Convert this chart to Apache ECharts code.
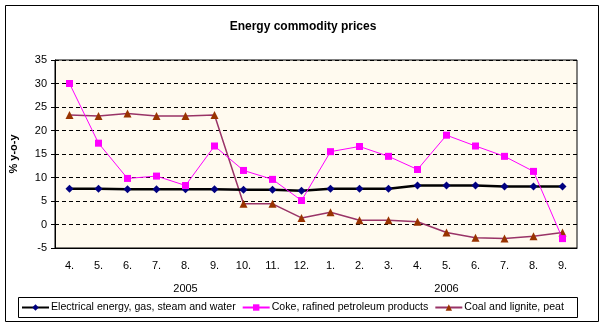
<!DOCTYPE html>
<html>
<head>
<meta charset="utf-8">
<script src="https://cdn.jsdelivr.net/npm/echarts@6/dist/echarts.min.js"></script>
<style>html,body{margin:0;padding:0;background:#fff;}#c{width:604px;height:327px;}</style>
</head>
<body>
<div id="c"></div>
<script>
var months = ['4.','5.','6.','7.','8.','9.','10.','11.','12.','1.','2.','3.','4.','5.','6.','7.','8.','9.'];
var years = ['2005','2006'];
var electrical = [7.6,7.6,7.5,7.5,7.5,7.5,7.4,7.4,7.2,7.6,7.6,7.6,8.3,8.3,8.3,8.1,8.1,8.1];
var coke = [30.0,17.3,9.8,10.3,8.3,16.7,11.5,9.6,5.1,15.5,16.6,14.5,11.7,19.0,16.7,14.5,11.3,-3.0];
var coal = [23.3,23.1,23.6,23.1,23.1,23.3,4.4,4.4,1.4,2.6,0.9,0.9,0.6,-1.7,-2.8,-3.0,-2.5,-1.7];
var seriesNames = ['Electrical energy, gas, steam and water','Coke, rafined petroleum products','Coal and lignite, peat'];
var titleText = 'Energy commodity prices';
var yName = '% y-o-y';

var font = 'Liberation Sans, Arial, sans-serif';
var chart = echarts.init(document.getElementById('c'), null, {renderer:'canvas'});
chart.setOption({
  animation: false,
  backgroundColor: '#ffffff',
  title: {
    text: titleText, left: 298, top: 16, textAlign: 'center',
    textStyle: {fontFamily: font, fontSize: 12, fontWeight: 'bold', color: '#000'}
  },
  graphic: [
    {type:'rect', shape:{x:5.5,y:5.5,width:593,height:316}, style:{fill:null, stroke:'#000', lineWidth:1}, z:-1},
    {type:'rect', shape:{x:18.5,y:297.5,width:559,height:20}, style:{fill:null, stroke:'#000', lineWidth:1}, z:10}
  ],
  legend: {
    left: 21, top: 302, itemGap: 6, itemWidth: 27, itemHeight: 8, padding: 0,
    textStyle: {fontFamily: font, fontSize: 10.6, color: '#000', padding:[0,0,0,-3]},
    data: seriesNames
  },
  grid: {left: 52, top: 60, right: 27, bottom: 79, show: true, backgroundColor: '#FFFAEF', borderColor: '#000', borderWidth: 1},
  xAxis: [
    {type:'category', data: months, boundaryGap: true,
     axisLine:{onZero:false, lineStyle:{color:'#000', width:1}}, axisTick:{show:false},
     axisLabel:{fontFamily:font, fontSize:11, color:'#000', margin:12}},
    {type:'category', data: years, position:'bottom', offset: 23, boundaryGap: true,
     axisLine:{show:false}, axisTick:{show:false},
     axisLabel:{fontFamily:font, fontSize:11, color:'#000', margin:12}}
  ],
  yAxis: {
    type:'value', min:-5, max:35, interval:5,
    name: yName, nameLocation:'middle', nameGap: 36, nameRotate: 90,
    nameTextStyle:{fontFamily:font, fontSize:11, fontWeight:'bold', color:'#000'},
    axisLine:{show:true, lineStyle:{color:'#000', width:1}},
    axisTick:{show:true, length:4, lineStyle:{color:'#000'}},
    axisLabel:{fontFamily:font, fontSize:11, color:'#000', margin:8},
    splitLine:{show:true, lineStyle:{color:'#000', type:[4,3], width:1}}
  },
  series: [
    {name: seriesNames[0], type:'line', data: electrical, symbol:'diamond', symbolSize:8,
     lineStyle:{color:'#000', width:2.5}, itemStyle:{color:'#000080'}, z:3},
    {name: seriesNames[1], type:'line', data: coke, symbol:'rect', symbolSize:7,
     lineStyle:{color:'#FF00FF', width:1}, itemStyle:{color:'#FF00FF'}, z:4},
    {name: seriesNames[2], type:'line', data: coal, symbol:'triangle', symbolSize:8,
     lineStyle:{color:'#993366', width:1.5}, itemStyle:{color:'#993300'}, z:2}
  ]
});
</script>
</body>
</html>
